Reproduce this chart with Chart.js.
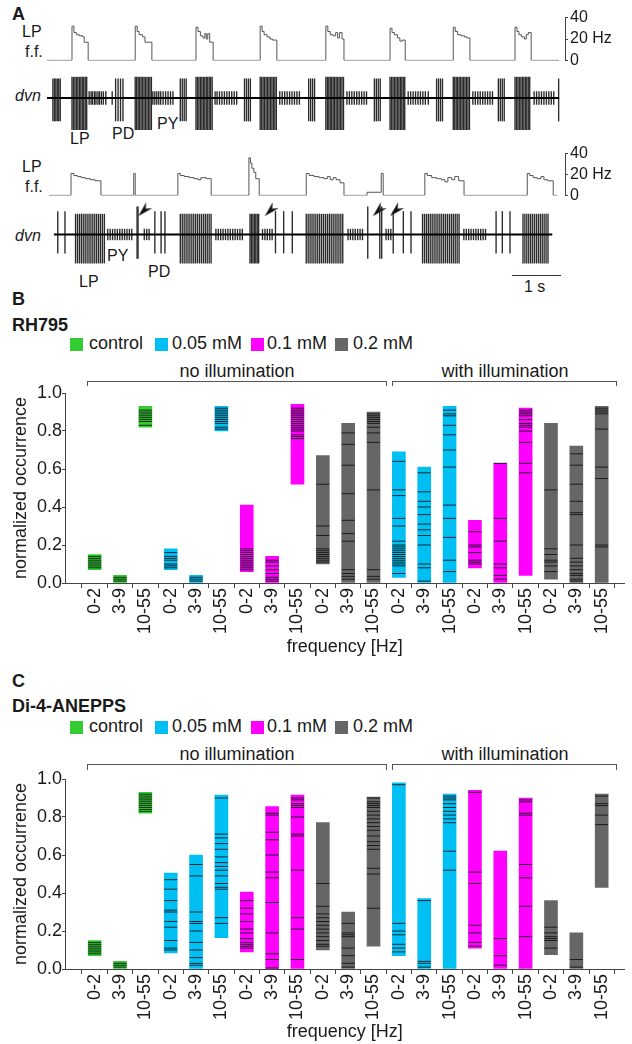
<!DOCTYPE html>
<html>
<head>
<meta charset="utf-8">
<script src="https://cdn.jsdelivr.net/npm/chart.js@4.4.1/dist/chart.umd.min.js"></script>
<style>
  html, body { margin: 0; padding: 0; background: #fff; }
  body { width: 632px; height: 1044px; position: relative; overflow: hidden;
         font-family: "Liberation Sans", Arial, sans-serif; color: #1a1a1a; }
  canvas { position: absolute; }
  .t { position: absolute; white-space: nowrap; line-height: 1; font-size: 16px; }
  .h { font-size: 18px; font-weight: bold; }
  .lg { font-size: 18px; }
  .sq { position: absolute; width: 13px; height: 13px; }
  .c { width: 300px; text-align: center; font-size: 18px; }
  .br { position: absolute; height: 4px; border: 1px solid #555; border-bottom: none; }
</style>
</head>
<body>
<!-- panel A -->
<div class="t h" style="left:12px;top:5px;">A</div>
<div class="t" style="left:22px;top:24px;">LP</div>
<div class="t" style="left:25px;top:44px;">f.f.</div>
<div class="t" style="left:15px;top:88px;font-style:italic;">dvn</div>
<div class="t" style="left:70px;top:131px;">LP</div>
<div class="t" style="left:112px;top:126px;">PD</div>
<div class="t" style="left:157px;top:116px;">PY</div>
<div class="t" style="left:22px;top:159px;">LP</div>
<div class="t" style="left:25px;top:179px;">f.f.</div>
<div class="t" style="left:15px;top:228px;font-style:italic;">dvn</div>
<div class="t" style="left:79px;top:274px;">LP</div>
<div class="t" style="left:107px;top:248px;">PY</div>
<div class="t" style="left:148px;top:264px;">PD</div>
<div style="position:absolute;left:512px;top:275px;width:49px;border-top:1px solid #333;"></div>
<div class="t" style="left:524px;top:279px;">1 s</div>

<canvas id="ffTop" width="578" height="66" style="left:47px;top:6px;"></canvas>
<canvas id="dvnTop" width="518" height="74" style="left:47px;top:56px;"></canvas>
<canvas id="ffBottom" width="578" height="65" style="left:47px;top:142px;"></canvas>
<canvas id="dvnBottom" width="518" height="74" style="left:47px;top:195px;"></canvas>

<!-- panel B -->
<div class="t h" style="left:12px;top:290px;">B</div>
<div class="t h" style="left:12px;top:316px;">RH795</div>
<div class="sq" style="left:70px;top:338px;background:#33cc33;"></div>
<div class="t lg" style="left:89px;top:334px;">control</div>
<div class="sq" style="left:155px;top:338px;background:#00bff3;"></div>
<div class="t lg" style="left:172px;top:334px;">0.05 mM</div>
<div class="sq" style="left:251px;top:338px;background:#ff00ff;"></div>
<div class="t lg" style="left:267px;top:334px;">0.1 mM</div>
<div class="sq" style="left:335px;top:338px;background:#666666;"></div>
<div class="t lg" style="left:353px;top:334px;">0.2 mM</div>
<div class="t c" style="left:87px;top:362px;">no illumination</div>
<div class="t c" style="left:355px;top:362px;">with illumination</div>
<div class="br" style="left:87px;top:381px;width:298px;"></div>
<div class="br" style="left:392px;top:381px;width:223px;"></div>
<canvas id="chartB" width="632" height="282" style="left:0;top:381px;"></canvas>

<!-- panel C -->
<div class="t h" style="left:12px;top:672px;">C</div>
<div class="t h" style="left:12px;top:697px;">Di-4-ANEPPS</div>
<div class="sq" style="left:70px;top:721px;background:#33cc33;"></div>
<div class="t lg" style="left:89px;top:717px;">control</div>
<div class="sq" style="left:155px;top:721px;background:#00bff3;"></div>
<div class="t lg" style="left:172px;top:717px;">0.05 mM</div>
<div class="sq" style="left:251px;top:721px;background:#ff00ff;"></div>
<div class="t lg" style="left:267px;top:717px;">0.1 mM</div>
<div class="sq" style="left:335px;top:721px;background:#666666;"></div>
<div class="t lg" style="left:353px;top:717px;">0.2 mM</div>
<div class="t c" style="left:87px;top:745px;">no illumination</div>
<div class="t c" style="left:355px;top:745px;">with illumination</div>
<div class="br" style="left:87px;top:764px;width:298px;height:5px;"></div>
<div class="br" style="left:392px;top:764px;width:223px;height:5px;"></div>
<canvas id="chartC" width="632" height="282" style="left:0;top:767px;"></canvas>

<script>
// ---- panel A: LP firing frequency (time s, Hz) ----
const ffTopPoints = [[0,0],[0.51,32],[0.55,26],[0.60,24],[0.66,23],[0.73,22],[0.76,17],[0.84,0],
  [1.80,32],[1.84,27],[1.88,24],[1.95,22],[2.00,17],[2.14,0],
  [3.04,31],[3.08,27],[3.13,23],[3.18,21],[3.22,25],[3.25,20],[3.28,25],[3.32,17],[3.39,0],
  [4.35,32],[4.39,27],[4.43,24],[4.49,22],[4.55,20],[4.60,19],[4.69,0],
  [5.69,32],[5.73,27],[5.78,24],[5.84,23],[5.89,26],[5.93,21],[5.97,26],[6.02,20],[6.06,0],
  [7.00,30],[7.04,26],[7.09,24],[7.15,21],[7.20,18],[7.25,19],[7.31,0],
  [8.29,31],[8.33,27],[8.38,24],[8.45,23],[8.52,22],[8.57,21],[8.63,0],
  [9.55,31],[9.59,27],[9.63,24],[9.68,22],[9.74,20],[9.78,24],[9.82,26],[9.88,0],[10.45,0]];
const ffBottomPoints = [[0.04,0],[0.49,21],[0.55,19],[0.62,18],[0.70,17],[0.78,16],[0.88,15],[0.98,14],[1.10,0],
  [1.77,21],[1.80,0],
  [2.67,21],[2.72,19],[2.80,18],[2.90,17],[3.00,16],[3.08,15],[3.14,17],[3.25,16],[3.35,0],
  [4.12,36],[4.15,31],[4.18,26],[4.22,22],[4.26,16],[4.33,0],
  [5.29,21],[5.35,19],[5.45,18],[5.55,17],[5.65,16],[5.72,18],[5.78,15],[5.84,17],[5.90,15],[5.98,12],[6.06,0],
  [6.53,3],[6.82,21],[6.86,0],
  [7.71,21],[7.76,19],[7.85,17],[7.95,16],[8.05,15],[8.12,13],[8.18,17],[8.26,15],[8.32,18],[8.40,14],[8.51,0],
  [9.80,21],[9.85,19],[9.92,17],[10.00,16],[10.08,18],[10.14,15],[10.22,14],[10.33,0],[10.41,0]];
const ffTicks = [0, 20, 40];

// ---- panel A: dvn spike times (s) ----
const topLpSpikes = [0.51,0.54,0.57,0.60,0.63,0.66,0.69,0.72,0.75,0.78,0.81,
  1.80,1.83,1.86,1.89,1.92,1.95,1.98,2.01,2.04,2.07,2.10,2.13,
  3.04,3.07,3.10,3.13,3.16,3.19,3.22,3.25,3.28,3.31,3.34,3.37,
  4.35,4.38,4.41,4.44,4.47,4.50,4.53,4.56,4.59,4.62,4.65,4.68,
  5.69,5.72,5.75,5.78,5.81,5.84,5.87,5.90,5.93,5.96,5.99,6.02,6.05,
  7.00,7.03,7.06,7.09,7.12,7.15,7.18,7.21,7.24,7.27,7.30,
  8.29,8.32,8.35,8.38,8.41,8.44,8.47,8.50,8.53,8.56,8.59,8.62,
  9.55,9.58,9.61,9.64,9.67,9.70,9.73,9.76,9.79,9.82,9.85];
const topPySpikes = [0.86,0.90,0.93,0.97,1.00,1.04,1.07,1.11,1.15,1.20,1.33,
  2.16,2.20,2.24,2.28,2.32,2.37,2.42,2.47,2.52,2.57,
  3.43,3.47,3.52,3.57,3.62,3.67,3.72,3.77,3.82,3.87,
  4.75,4.80,4.85,4.90,4.95,5.00,5.05,5.10,5.15,
  6.12,6.17,6.22,6.27,6.32,6.37,6.42,6.47,6.52,
  7.37,7.42,7.47,7.52,7.57,7.62,7.67,7.72,7.78,
  8.69,8.74,8.79,8.84,8.89,8.94,8.99,9.04,9.09,
  9.94,9.99,10.04,10.09,10.14,10.19,10.24,10.29,10.34];
const topPdSpikes = [0.12,0.15,0.18,0.21,0.24,0.27, 1.40,1.45,1.50,1.55, 2.72,2.76,2.80,2.84,
  4.03,4.07,4.11,4.15, 5.34,5.38,5.42,5.46, 6.68,6.72,6.76,6.80, 7.95,7.99,8.03,8.07,
  9.21,9.25,9.29,9.33, 10.44];
const bottomLpSpikes = [0.49,0.53,0.57,0.61,0.65,0.69,0.73,0.77,0.81,0.85,0.89,0.93,0.97,1.01,1.05,1.09,
  2.67,2.71,2.75,2.79,2.83,2.87,2.91,2.95,2.99,3.03,3.07,3.11,3.15,3.19,3.23,3.27,3.31,
  4.12,4.15,4.18,4.21,4.24,4.27,4.30,
  5.29,5.33,5.37,5.41,5.45,5.49,5.53,5.57,5.61,5.65,5.69,5.73,5.77,5.81,5.85,5.89,5.93,5.97,6.01,6.05,
  7.71,7.75,7.79,7.83,7.87,7.91,7.95,7.99,8.03,8.07,8.11,8.15,8.19,8.23,8.27,8.31,8.35,8.39,8.43,8.47,
  9.80,9.84,9.88,9.92,9.96,10.00,10.04,10.08,10.12,10.16,10.20,10.24,10.28,10.32];
const bottomPySpikes = [1.16,1.21,1.26,1.31,1.36,1.41,1.46,1.51,1.56,1.61,1.66, 1.92,1.97,2.02,
  3.41,3.46,3.51,3.56,3.61,3.66,3.71,3.76,3.81,3.86,3.91,3.96, 4.38,4.43,4.48,4.53,4.58,
  6.16,6.21,6.26,6.31,6.36,6.41,6.46, 6.95,7.00,7.05,
  8.57,8.62,8.67,8.72,8.77,8.82,8.87,8.92,8.97,9.02];
const bottomPdSpikes = [0.12,0.27, 2.14,2.27,2.35, 4.65,4.82,5.00, 7.10,7.31,7.47, 9.24,9.37,9.53];
const bottomTallSpikes = [1.77,1.79, 6.57, 6.82,6.86];
const arrowTimes = [1.94, 4.57, 6.82, 7.18];
const arrowLevel = 0.86;

// spike extents [down, up] relative to baseline
const lpAmpTop = [-1.0, 0.65];
const pyAmpTop = [-0.2, 0.2];
const pdAmpTop = [-0.72, 0.6];
const lpAmpBottom = [-0.97, 0.69];
const pyAmpBottom = [-0.18, 0.18];
const pdAmpBottom = [-0.63, 0.78];
const tallAmpBottom = [-0.81, 0.94];

// ---- panels B, C ----
const xLabels = ['0-2','3-9','10-55','0-2','3-9','10-55','0-2','3-9','10-55','0-2','3-9','10-55',
  '0-2','3-9','10-55','0-2','3-9','10-55','0-2','3-9','10-55'];
const barGroups = ['control','control','control','0.05','0.05','0.05','0.1','0.1','0.1','0.2','0.2','0.2',
  '0.05','0.05','0.05','0.1','0.1','0.1','0.2','0.2','0.2'];
const yTicks = [0, 0.2, 0.4, 0.6, 0.8, 1.0];

const rhRanges = [[0.07,0.15],[0,0.04],[0.82,0.93],[0.07,0.18],[0,0.04],[0.80,0.93],[0.06,0.41],[0,0.14],[0.52,0.94],
  [0.10,0.67],[0,0.84],[0,0.90],[0.03,0.69],[0,0.61],[0,0.93],[0.08,0.33],[0,0.63],[0.04,0.92],[0.02,0.84],[0,0.72],[0,0.93]];
const rhMarks = [
  [0.08,0.09,0.10,0.11,0.12,0.13,0.14],
  [0.01,0.02,0.03],
  [0.83,0.85,0.86,0.87,0.88,0.89,0.90,0.91],
  [0.08,0.09,0.10,0.12,0.13,0.14,0.16],
  [0.01,0.02,0.03],
  [0.81,0.82,0.84,0.85,0.86,0.87,0.88,0.89,0.90,0.91,0.92],
  [0.07,0.08,0.09,0.10,0.11,0.12,0.13,0.14,0.15,0.16,0.17,0.18],
  [0.01,0.02,0.03,0.05,0.07,0.09,0.11,0.12],
  [0.76,0.77,0.78,0.80,0.81,0.82,0.83,0.84,0.85,0.86,0.87,0.88,0.89,0.90,0.91,0.92],
  [0.52,0.30,0.25,0.18,0.17,0.16,0.15,0.14,0.13,0.12,0.11],
  [0.79,0.73,0.62,0.47,0.33,0.26,0.22,0.07,0.05,0.035,0.02],
  [0.89,0.88,0.87,0.86,0.85,0.84,0.82,0.79,0.74,0.49,0.07,0.035,0.02],
  [0.64,0.49,0.46,0.34,0.30,0.22,0.20,0.19,0.18,0.17,0.16,0.15,0.14,0.13,0.12,0.11,0.10,0.09,0.05],
  [0.58,0.48,0.43,0.40,0.36,0.31,0.28,0.25,0.20,0.10,0.08,0.01],
  [0.91,0.89,0.88,0.83,0.78,0.70,0.61,0.41,0.34,0.24,0.12,0.06],
  [0.27,0.20,0.19,0.16,0.12,0.11,0.10],
  [0.63,0.34,0.22,0.10,0.08,0.04,0.02],
  [0.91,0.90,0.89,0.88,0.86,0.84,0.83,0.82,0.80,0.74,0.63,0.58],
  [0.49,0.18,0.15,0.12,0.11,0.09,0.06],
  [0.68,0.62,0.52,0.43,0.37,0.36,0.20,0.13,0.11,0.09,0.07,0.05,0.04,0.02,0.01],
  [0.92,0.91,0.90,0.89,0.81,0.61,0.55,0.20,0.19]
];

const diRanges = [[0.07,0.15],[0,0.04],[0.82,0.93],[0.085,0.505],[0,0.60],[0.165,0.915],[0.09,0.405],[0,0.855],[0,0.915],
  [0.10,0.77],[0,0.30],[0.12,0.905],[0.07,0.98],[0,0.37],[0,0.92],[0.11,0.94],[0,0.62],[0,0.90],[0.075,0.36],[0,0.19],[0.43,0.92]];
const diMarks = [
  [0.08,0.09,0.10,0.11,0.12,0.13,0.14],
  [0.01,0.02,0.03],
  [0.83,0.84,0.85,0.86,0.87,0.88,0.89,0.90,0.91,0.92],
  [0.47,0.42,0.36,0.31,0.30,0.25,0.22,0.15,0.11,0.10],
  [0.55,0.49,0.30,0.25,0.24,0.20,0.14,0.10,0.06,0.03,0.02],
  [0.90,0.71,0.69,0.66,0.63,0.59,0.56,0.54,0.52,0.49,0.45,0.43,0.42,0.27,0.24],
  [0.36,0.32,0.29,0.25,0.21,0.19,0.16,0.14,0.13,0.12,0.11],
  [0.82,0.81,0.72,0.68,0.60,0.51,0.48,0.35,0.19,0.08,0.05,0.005],
  [0.90,0.89,0.87,0.86,0.85,0.80,0.71,0.70,0.52,0.27,0.21,0.05],
  [0.45,0.33,0.29,0.27,0.25,0.23,0.21,0.19,0.17,0.15,0.13,0.12],
  [0.24,0.19,0.18,0.17,0.11,0.07,0.03,0.01],
  [0.90,0.88,0.87,0.86,0.85,0.83,0.81,0.79,0.77,0.75,0.73,0.70,0.67,0.65,0.63,0.53,0.50,0.32],
  [0.97,0.24,0.20,0.18,0.13,0.11,0.09],
  [0.36,0.04,0.03,0.01],
  [0.91,0.90,0.89,0.87,0.85,0.83,0.81,0.79,0.77,0.62,0.52],
  [0.93,0.51,0.45,0.23,0.19,0.14,0.12],
  [0.16,0.07,0.02],
  [0.89,0.88,0.82,0.81,0.55,0.48,0.33,0.17],
  [0.22,0.19,0.17,0.16,0.15,0.11],
  [0.05,0.01],
  [0.91,0.87,0.86,0.81,0.76]
];

const groupColors = { control: '#33cc33', '0.05': '#00bff3', '0.1': '#ff00ff', '0.2': '#666666' };
const fontFamily = '"Liberation Sans", Arial, sans-serif';
const timeMax = 10.57;

Chart.defaults.font.family = fontFamily;
Chart.defaults.color = '#1a1a1a';

const noUi = { legend: { display: false }, tooltip: { enabled: false } };

// LP instantaneous frequency trace
function createFfChart(canvasId, points) {
    return new Chart(document.getElementById(canvasId), {
        type: 'line',
        data: {
            datasets: [{
                data: points.map(p => ({ x: p[0], y: p[1] })),
                stepped: 'before',
                borderColor: '#555',
                borderWidth: 1,
                pointRadius: 0
            }]
        },
        options: {
            responsive: false,
            animation: false,
            events: [],
            layout: { padding: { top: 10, bottom: 10, left: 0, right: 0 } },
            plugins: noUi,
            scales: {
                x: { type: 'linear', display: false, min: 0, max: timeMax },
                y: {
                    position: 'right', min: 0, max: 40,
                    afterFit: s => { s.width = 60; },
                    afterBuildTicks: s => { s.ticks = ffTicks.map(v => ({ value: v })); },
                    grid: { drawOnChartArea: false, tickLength: 3, color: '#444' },
                    border: { color: '#444' },
                    ticks: { autoSkip: false, padding: 2, color: '#1a1a1a', font: { size: 16 },
                             callback: v => v === 20 ? '20 Hz' : String(v) }
                }
            }
        }
    });
}

// arrowhead marker pointing down-left
function makeArrow() {
    const c = document.createElement('canvas');
    c.width = 16; c.height = 16;
    const g = c.getContext('2d');
    g.fillStyle = '#111';
    g.beginPath();
    g.moveTo(1, 15);      // tip
    g.lineTo(15, 7);      // wing
    g.lineTo(8.5, 7.5);   // notch
    g.lineTo(9, 1);       // wing
    g.closePath();
    g.fill();
    return c;
}

// extracellular dvn recording as spikes
function createDvnChart(canvasId, classes, tEnd, arrows) {
    const datasets = [{
        type: 'line',
        data: [{ x: tEnd[0], y: 0 }, { x: tEnd[1], y: 0 }],
        borderColor: '#000', borderWidth: 2, pointRadius: 0
    }];
    classes.forEach(c => {
        datasets.push({
            type: 'bar',
            data: c.times.map(t => ({ x: t, y: c.amp })),
            backgroundColor: '#2a2a2a',
            barThickness: 0.7,
            grouped: false
        });
    });
    if (arrows) {
        datasets.push({
            type: 'scatter',
            data: arrows.map(t => ({ x: t, y: arrowLevel })),
            pointStyle: makeArrow(),
            clip: false
        });
    }
    return new Chart(document.getElementById(canvasId), {
        type: 'bar',
        data: { datasets: datasets },
        options: {
            responsive: false,
            animation: false,
            events: [],
            layout: { padding: { top: 10, bottom: 0, left: 0, right: 0 } },
            plugins: noUi,
            scales: {
                x: { type: 'linear', display: false, offset: false, min: 0, max: timeMax },
                y: { display: false, min: -1, max: 1 }
            }
        }
    });
}

// normalized occurrence chart with individual preparations as lines
function createOccurrenceChart(canvasId, ranges, marks, titlePad) {
    const bars = ranges.map((r, i) => ({ x: i, y: r }));
    const lines = [];
    marks.forEach((list, i) => list.forEach(v => lines.push({ x: i, y: v })));
    return new Chart(document.getElementById(canvasId), {
        type: 'bar',
        data: {
            datasets: [{
                type: 'scatter',
                data: lines,
                pointStyle: 'line',
                radius: 6.5,
                borderWidth: 1,
                borderColor: 'rgba(15,15,15,0.85)',
                order: 0
            }, {
                type: 'bar',
                data: bars,
                backgroundColor: barGroups.map(g => groupColors[g]),
                barThickness: 13,
                order: 1
            }]
        },
        options: {
            responsive: false,
            animation: false,
            events: [],
            layout: { padding: { top: 12, bottom: 0, left: 0, right: 0 } },
            plugins: noUi,
            scales: {
                x: {
                    type: 'linear', offset: false, min: -1.17, max: 20.9,
                    afterBuildTicks: s => { s.ticks = xLabels.map((_, i) => ({ value: i })); },
                    afterFit: s => { s.height = 80; },
                    grid: { drawOnChartArea: false, tickLength: 5, color: '#444' },
                    border: { color: '#444' },
                    ticks: { autoSkip: false, minRotation: 90, maxRotation: 90, padding: 0,
                             color: '#1a1a1a', font: { size: 18 }, callback: v => xLabels[v] },
                    title: { display: true, text: 'frequency [Hz]', color: '#1a1a1a',
                             font: { size: 18 }, padding: { top: 0, bottom: titlePad } }
                },
                y: {
                    min: 0, max: 1,
                    afterBuildTicks: s => { s.ticks = yTicks.map(v => ({ value: v })); },
                    afterFit: s => { s.width = 65; },
                    grid: { drawOnChartArea: false, tickLength: 3, color: '#444' },
                    border: { color: '#444' },
                    ticks: { padding: 0, color: '#1a1a1a', font: { size: 18 }, callback: v => v.toFixed(1) },
                    title: { display: true, text: 'normalized occurrence', color: '#1a1a1a',
                             font: { size: 18 }, padding: { top: 10, bottom: 0 } }
                }
            }
        }
    });
}

createFfChart('ffTop', ffTopPoints);
createFfChart('ffBottom', ffBottomPoints);
createDvnChart('dvnTop', [
    { times: topLpSpikes, amp: lpAmpTop },
    { times: topPySpikes, amp: pyAmpTop },
    { times: topPdSpikes, amp: pdAmpTop }
], [0, 10.45], null);
createDvnChart('dvnBottom', [
    { times: bottomLpSpikes, amp: lpAmpBottom },
    { times: bottomPySpikes, amp: pyAmpBottom },
    { times: bottomPdSpikes, amp: pdAmpBottom },
    { times: bottomTallSpikes, amp: tallAmpBottom }
], [0.04, 10.41], arrowTimes);
createOccurrenceChart('chartB', rhRanges, rhMarks, 5);
createOccurrenceChart('chartC', diRanges, diMarks, 6);
</script>
</body>
</html>
